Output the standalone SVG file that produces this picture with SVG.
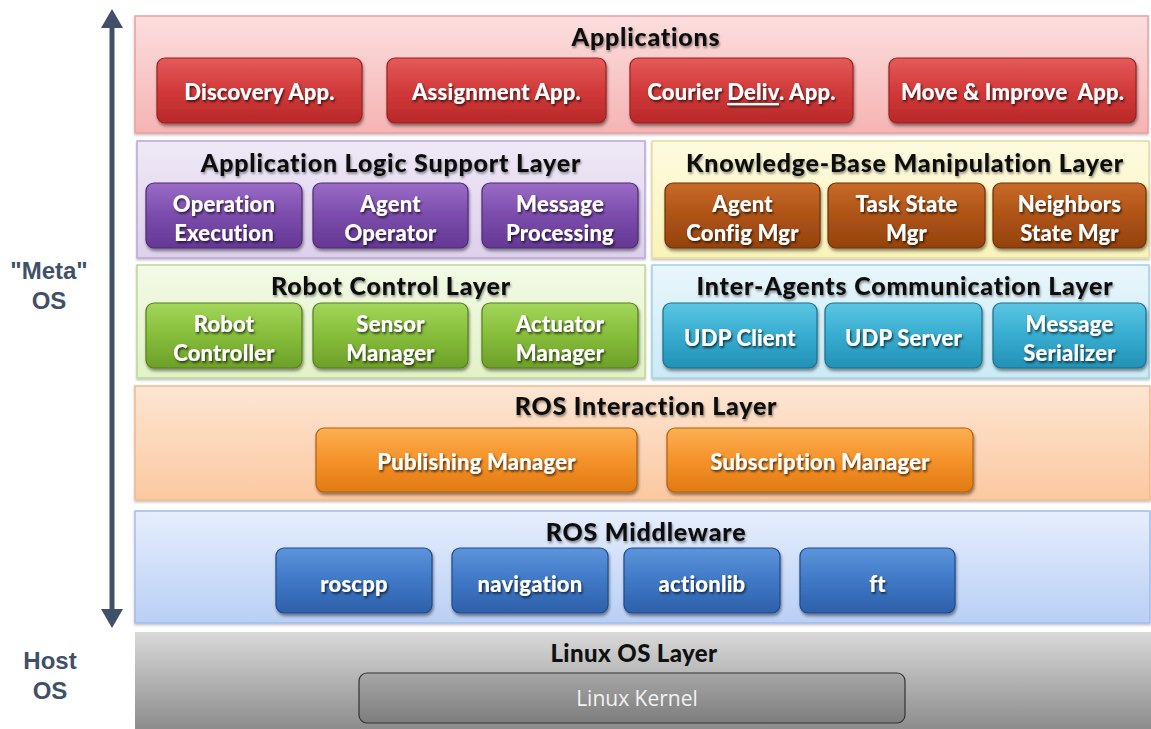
<svg xmlns="http://www.w3.org/2000/svg" width="1151" height="729" viewBox="0 0 1151 729">
<defs>
  <linearGradient id="gPink" x1="0" y1="0" x2="0" y2="1"><stop offset="0" stop-color="#fcdede"/><stop offset="1" stop-color="#f6b3b3"/></linearGradient>
  <linearGradient id="gLav" x1="0" y1="0" x2="0" y2="1"><stop offset="0" stop-color="#efe9f6"/><stop offset="1" stop-color="#ddd0ec"/></linearGradient>
  <linearGradient id="gYel" x1="0" y1="0" x2="0" y2="1"><stop offset="0" stop-color="#fdfbe0"/><stop offset="1" stop-color="#faf3b8"/></linearGradient>
  <linearGradient id="gLGreen" x1="0" y1="0" x2="0" y2="1"><stop offset="0" stop-color="#f3fae6"/><stop offset="1" stop-color="#e2f2c7"/></linearGradient>
  <linearGradient id="gLCyan" x1="0" y1="0" x2="0" y2="1"><stop offset="0" stop-color="#e8f6fb"/><stop offset="1" stop-color="#cbeaf5"/></linearGradient>
  <linearGradient id="gPeach" x1="0" y1="0" x2="0" y2="1"><stop offset="0" stop-color="#fde6d3"/><stop offset="1" stop-color="#fbc8a0"/></linearGradient>
  <linearGradient id="gLBlue" x1="0" y1="0" x2="0" y2="1"><stop offset="0" stop-color="#e6eefc"/><stop offset="1" stop-color="#b9cff5"/></linearGradient>
  <linearGradient id="gGray" x1="0" y1="0" x2="0" y2="1"><stop offset="0" stop-color="#d9d9d9"/><stop offset="1" stop-color="#8c8c8c"/></linearGradient>
  <linearGradient id="gKernel" x1="0" y1="0" x2="0" y2="1"><stop offset="0" stop-color="#a6a6a6"/><stop offset="1" stop-color="#7d7d7d"/></linearGradient>

  <linearGradient id="bRed" x1="0" y1="0" x2="0" y2="1"><stop offset="0" stop-color="#e45a5a"/><stop offset="0.5" stop-color="#d23a3a"/><stop offset="1" stop-color="#b82828"/></linearGradient>
  <linearGradient id="bPurple" x1="0" y1="0" x2="0" y2="1"><stop offset="0" stop-color="#9a6cc6"/><stop offset="0.5" stop-color="#7b4cab"/><stop offset="1" stop-color="#643894"/></linearGradient>
  <linearGradient id="bBrown" x1="0" y1="0" x2="0" y2="1"><stop offset="0" stop-color="#c96a2a"/><stop offset="0.5" stop-color="#ae5316"/><stop offset="1" stop-color="#94420e"/></linearGradient>
  <linearGradient id="bGreen" x1="0" y1="0" x2="0" y2="1"><stop offset="0" stop-color="#a3d65a"/><stop offset="0.5" stop-color="#86bd3a"/><stop offset="1" stop-color="#6d9f28"/></linearGradient>
  <linearGradient id="bCyan" x1="0" y1="0" x2="0" y2="1"><stop offset="0" stop-color="#5cc6e3"/><stop offset="0.5" stop-color="#36acd0"/><stop offset="1" stop-color="#2391b5"/></linearGradient>
  <linearGradient id="bOrange" x1="0" y1="0" x2="0" y2="1"><stop offset="0" stop-color="#fbb053"/><stop offset="0.5" stop-color="#f5922a"/><stop offset="1" stop-color="#e07a12"/></linearGradient>
  <linearGradient id="bBlue" x1="0" y1="0" x2="0" y2="1"><stop offset="0" stop-color="#5c95db"/><stop offset="0.5" stop-color="#3f78c6"/><stop offset="1" stop-color="#2d60aa"/></linearGradient>

  <filter id="btnShadow" x="-10%" y="-20%" width="120%" height="150%">
    <feDropShadow dx="1" dy="2.5" stdDeviation="1.8" flood-color="#000" flood-opacity="0.45"/>
  </filter>
  <filter id="panelShadow" x="-5%" y="-10%" width="110%" height="130%">
    <feDropShadow dx="0" dy="1.5" stdDeviation="1.2" flood-color="#000" flood-opacity="0.25"/>
  </filter>
  <filter id="txtShadowW" x="-10%" y="-30%" width="120%" height="170%">
    <feDropShadow dx="1.2" dy="1.8" stdDeviation="0.9" flood-color="#000" flood-opacity="0.7"/>
  </filter>
  <filter id="txtShadowB" x="-10%" y="-30%" width="120%" height="170%">
    <feDropShadow dx="1" dy="2" stdDeviation="1.2" flood-color="#000" flood-opacity="0.4"/>
  </filter>
</defs>
<style>
  .panel { stroke-width: 1.5; filter: url(#panelShadow); }
  .btn { rx: 8px; ry: 8px; stroke-width: 1.2; filter: url(#btnShadow); }
  .title { font-family: Lato, "Liberation Sans", sans-serif; font-weight: 900; font-size: 25px; letter-spacing: 0.8px; fill: #111; text-anchor: middle; dominant-baseline: central; filter: url(#txtShadowB); }
  .bt { font-family: Lato, "Liberation Sans", sans-serif; font-weight: 900; font-size: 22px; letter-spacing: 0.2px; fill: #fff; text-anchor: middle; dominant-baseline: central; filter: url(#txtShadowW); }
  .side { font-family: "Liberation Sans", Arial, sans-serif; font-weight: bold; font-size: 24px; fill: #3f5068; text-anchor: middle; }
</style>
<rect width="1151" height="729" fill="#ffffff"/>

<g id="side-axis">
  <line x1="112" y1="26" x2="112" y2="611" stroke="#3f5068" stroke-width="5"/>
  <polygon points="112,9 101,28 123,28" fill="#3f5068"/>
  <polygon points="112,628 101,609 123,609" fill="#3f5068"/>
  <text class="side" x="49" y="279">"Meta"</text>
  <text class="side" x="49" y="309">OS</text>
  <text class="side" x="50" y="669">Host</text>
  <text class="side" x="50" y="699">OS</text>
</g>

<g id="layer-applications">
  <rect class="panel" x="135" y="16" width="1013" height="117" fill="url(#gPink)" stroke="#e8a0a0"/>
  <text class="title" x="646" y="36">Applications</text>
  <g id="discovery-app"><rect class="btn" x="157" y="58" width="205" height="65" fill="url(#bRed)" stroke="#9c2020"/><text class="bt" x="259.5" y="91">Discovery App.</text></g>
  <g id="assignment-app"><rect class="btn" x="387" y="58" width="219" height="65" fill="url(#bRed)" stroke="#9c2020"/><text class="bt" x="496.5" y="91">Assignment App.</text></g>
  <g id="courier-app"><rect class="btn" x="630" y="58" width="223" height="65" fill="url(#bRed)" stroke="#9c2020"/><text class="bt" x="741.5" y="91">Courier <tspan text-decoration="underline">Deliv</tspan>. App.</text></g>
  <g id="move-improve-app"><rect class="btn" x="889" y="58" width="247" height="65" fill="url(#bRed)" stroke="#9c2020"/><text class="bt" x="1012.5" y="91" xml:space="preserve">Move &amp; Improve  App.</text></g>
</g>

<g id="layer-app-logic">
  <rect class="panel" x="137" y="141" width="508" height="117" fill="url(#gLav)" stroke="#b9a6d6"/>
  <text class="title" x="391" y="162">Application Logic Support Layer</text>
  <g id="operation-execution"><rect class="btn" x="146" y="183" width="156" height="65" fill="url(#bPurple)" stroke="#4f2a78"/><text class="bt" x="224" y="203">Operation</text><text class="bt" x="224" y="232">Execution</text></g>
  <g id="agent-operator"><rect class="btn" x="313" y="183" width="155" height="65" fill="url(#bPurple)" stroke="#4f2a78"/><text class="bt" x="390.5" y="203">Agent</text><text class="bt" x="390.5" y="232">Operator</text></g>
  <g id="message-processing"><rect class="btn" x="482" y="183" width="156" height="65" fill="url(#bPurple)" stroke="#4f2a78"/><text class="bt" x="560" y="203">Message</text><text class="bt" x="560" y="232">Processing</text></g>
</g>

<g id="layer-knowledge-base">
  <rect class="panel" x="652" y="141" width="497" height="117" fill="url(#gYel)" stroke="#e3dc9e"/>
  <text class="title" x="905" y="162">Knowledge-Base Manipulation Layer</text>
  <g id="agent-config-mgr"><rect class="btn" x="665" y="183" width="155" height="65" fill="url(#bBrown)" stroke="#6e300a"/><text class="bt" x="742.5" y="203">Agent</text><text class="bt" x="742.5" y="232">Config Mgr</text></g>
  <g id="task-state-mgr"><rect class="btn" x="828" y="183" width="157" height="65" fill="url(#bBrown)" stroke="#6e300a"/><text class="bt" x="906.5" y="203">Task State</text><text class="bt" x="906.5" y="232">Mgr</text></g>
  <g id="neighbors-state-mgr"><rect class="btn" x="993" y="183" width="153" height="65" fill="url(#bBrown)" stroke="#6e300a"/><text class="bt" x="1069.5" y="203">Neighbors</text><text class="bt" x="1069.5" y="232">State Mgr</text></g>
</g>

<g id="layer-robot-control">
  <rect class="panel" x="137" y="265" width="508" height="113" fill="url(#gLGreen)" stroke="#bcd994"/>
  <text class="title" x="391" y="285">Robot Control Layer</text>
  <g id="robot-controller"><rect class="btn" x="146" y="303" width="156" height="65" fill="url(#bGreen)" stroke="#54801c"/><text class="bt" x="224" y="323">Robot</text><text class="bt" x="224" y="352">Controller</text></g>
  <g id="sensor-manager"><rect class="btn" x="313" y="303" width="155" height="65" fill="url(#bGreen)" stroke="#54801c"/><text class="bt" x="390.5" y="323">Sensor</text><text class="bt" x="390.5" y="352">Manager</text></g>
  <g id="actuator-manager"><rect class="btn" x="482" y="303" width="156" height="65" fill="url(#bGreen)" stroke="#54801c"/><text class="bt" x="560" y="323">Actuator</text><text class="bt" x="560" y="352">Manager</text></g>
</g>

<g id="layer-inter-agents">
  <rect class="panel" x="652" y="265" width="497" height="113" fill="url(#gLCyan)" stroke="#9fd2e4"/>
  <text class="title" x="905" y="285">Inter-Agents Communication Layer</text>
  <g id="udp-client"><rect class="btn" x="663" y="303" width="154" height="65" fill="url(#bCyan)" stroke="#1a7190"/><text class="bt" x="740" y="337">UDP Client</text></g>
  <g id="udp-server"><rect class="btn" x="825" y="303" width="157" height="65" fill="url(#bCyan)" stroke="#1a7190"/><text class="bt" x="903.5" y="337">UDP Server</text></g>
  <g id="message-serializer"><rect class="btn" x="993" y="303" width="153" height="65" fill="url(#bCyan)" stroke="#1a7190"/><text class="bt" x="1069.5" y="323">Message</text><text class="bt" x="1069.5" y="352">Serializer</text></g>
</g>

<g id="layer-ros-interaction">
  <rect class="panel" x="135" y="386" width="1015" height="114" fill="url(#gPeach)" stroke="#f2b88c"/>
  <text class="title" x="646" y="405">ROS Interaction Layer</text>
  <g id="publishing-manager"><rect class="btn" x="316" y="428" width="321" height="64" fill="url(#bOrange)" stroke="#b3600c"/><text class="bt" x="476.5" y="461">Publishing Manager</text></g>
  <g id="subscription-manager"><rect class="btn" x="667" y="428" width="306" height="64" fill="url(#bOrange)" stroke="#b3600c"/><text class="bt" x="820" y="461">Subscription Manager</text></g>
</g>

<g id="layer-ros-middleware">
  <rect class="panel" x="135" y="511" width="1015" height="112" fill="url(#gLBlue)" stroke="#a4bce6"/>
  <text class="title" x="646" y="531">ROS Middleware</text>
  <g id="roscpp"><rect class="btn" x="276" y="548" width="156" height="65" fill="url(#bBlue)" stroke="#1f4a88"/><text class="bt" x="354" y="583">roscpp</text></g>
  <g id="navigation"><rect class="btn" x="452" y="548" width="156" height="65" fill="url(#bBlue)" stroke="#1f4a88"/><text class="bt" x="530" y="583">navigation</text></g>
  <g id="actionlib"><rect class="btn" x="624" y="548" width="156" height="65" fill="url(#bBlue)" stroke="#1f4a88"/><text class="bt" x="702" y="583">actionlib</text></g>
  <g id="ft"><rect class="btn" x="800" y="548" width="155" height="65" fill="url(#bBlue)" stroke="#1f4a88"/><text class="bt" x="877.5" y="583">ft</text></g>
</g>

<g id="layer-linux">
  <rect x="135" y="632" width="1016" height="97" fill="url(#gGray)"/>
  <text class="title" x="634" y="652" style="filter:none; font-size:24px; letter-spacing:0.4px">Linux OS Layer</text>
  <g id="linux-kernel"><rect x="359" y="673" width="546" height="50" rx="8" ry="8" fill="url(#gKernel)" stroke="#333" stroke-width="1.2"/><text x="637" y="698" font-family="'Open Sans', 'Liberation Sans', sans-serif" font-size="21" fill="#f2f2f2" text-anchor="middle" dominant-baseline="central">Linux Kernel</text></g>
</g>
</svg>
